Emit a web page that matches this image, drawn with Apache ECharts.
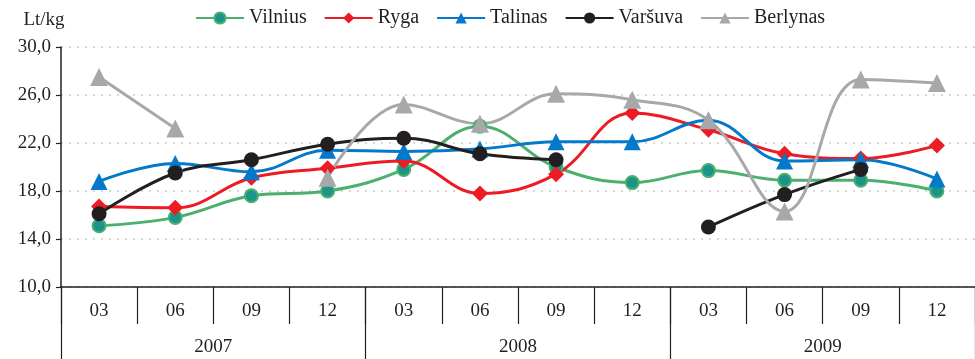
<!DOCTYPE html>
<html>
<head>
<meta charset="utf-8">
<script src="https://cdn.jsdelivr.net/npm/echarts@6/dist/echarts.min.js"></script>
<style>
  html, body { margin: 0; padding: 0; background: #fff; }
  #chart { width: 975px; height: 359px; }
</style>
</head>
<body>
<div id="chart"></div>
<script>
// Quarterly months and years for the two-level category axis
const months = ['03', '06', '09', '12', '03', '06', '09', '12', '03', '06', '09', '12'];
const years = ['2007', '2008', '2009'];
const yTicks = [10, 14, 18, 22, 26, 30];

// Prices, Lt/kg (null = no observation)
const vilnius  = [15.1, 15.8, 17.6, 18.0, 19.8, 23.4, 20.0, 18.7, 19.7, 18.9, 18.9, 18.0];
const ryga     = [16.7, 16.6, 19.1, 19.9, 20.5, 17.8, 19.4, 24.5, 23.1, 21.1, 20.7, 21.8];
const talinas  = [18.8, 20.3, 19.6, 21.4, 21.3, 21.5, 22.1, 22.1, 23.9, 20.5, 20.6, 19.0];
const varsuva  = [16.1, 19.5, 20.6, 21.9, 22.4, 21.1, 20.6, null, 15.0, 17.7, 19.8, null];
const berlynas = [27.5, 23.2, null, 19.1, 25.2, 23.6, 26.1, 25.6, 23.9, 16.3, 27.3, 27.0];

const FONT = '"Liberation Serif", "DejaVu Serif", serif';
const INK = '#231f20';

function lineSeries(name, data, color, symbol, size, markerFill, markerBorder) {
  return {
    name: name,
    type: 'line',
    data: data,
    smooth: 0.4,
    connectNulls: false,
    symbol: symbol,
    symbolSize: size,
    showAllSymbol: true,
    lineStyle: { color: color, width: 3 },
    itemStyle: {
      color: markerFill || color,
      borderColor: markerBorder || color,
      borderWidth: markerBorder ? 2 : 0
    },
    emphasis: { disabled: true },
    animation: false
  };
}

const chart = echarts.init(document.getElementById('chart'), null, { renderer: 'canvas' });

chart.setOption({
  backgroundColor: '#ffffff',
  animation: false,
  textStyle: { fontFamily: FONT, color: INK },
  legend: {
    top: 3,
    left: 190,
    itemWidth: 48,
    itemHeight: 14,
    itemGap: 17,
    textStyle: { fontFamily: FONT, fontSize: 20, color: INK },
    data: ['Vilnius', 'Ryga', 'Talinas', 'Varšuva', 'Berlynas']
  },
  grid: { left: 61, top: 47, width: 917, height: 240, containLabel: false },
  xAxis: [
    {
      type: 'category',
      data: months,
      position: 'bottom',
      boundaryGap: true,
      axisLine: { show: true, lineStyle: { color: INK, width: 1.5 } },
      axisTick: { show: true, interval: 0, length: 37, lineStyle: { color: INK, width: 1.2 } },
      axisLabel: { interval: 0, margin: 15, fontSize: 19, color: INK, fontFamily: FONT },
      splitLine: { show: false }
    },
    {
      type: 'category',
      data: years,
      position: 'bottom',
      boundaryGap: true,
      axisLine: { show: false },
      axisTick: { show: true, interval: 0, length: 73, lineStyle: { color: INK, width: 1.2 } },
      axisLabel: { interval: 0, margin: 51, fontSize: 19, color: INK, fontFamily: FONT },
      splitLine: { show: false }
    }
  ],
  yAxis: {
    type: 'value',
    min: yTicks[0],
    max: yTicks[yTicks.length - 1],
    interval: 4,
    name: 'Lt/kg',
    nameLocation: 'end',
    nameGap: 17,
    nameTextStyle: { fontFamily: FONT, fontSize: 19, color: INK, align: 'center', padding: [0, 0, 0, -34] },
    axisLine: { show: true, lineStyle: { color: INK, width: 1.5 } },
    axisTick: { show: true, length: 5, lineStyle: { color: INK, width: 1.2 } },
    axisLabel: {
      fontSize: 19, color: INK, fontFamily: FONT, margin: 10,
      formatter: v => v.toFixed(1).replace('.', ',')
    },
    splitLine: { show: true, lineStyle: { color: '#cccccc', type: [2, 6], width: 1.5 } }
  },
  series: [
    lineSeries('Vilnius', vilnius, '#4caf6e', 'circle', 13, '#1b958c', '#4caf6e'),
    lineSeries('Ryga', ryga, '#ed1c24', 'diamond', 16),
    lineSeries('Talinas', talinas, '#0579c9', 'triangle', 17),
    lineSeries('Varšuva', varsuva, INK, 'circle', 15),
    lineSeries('Berlynas', berlynas, '#a7a8a9', 'triangle', 18)
  ]
});
</script>
</body>
</html>
